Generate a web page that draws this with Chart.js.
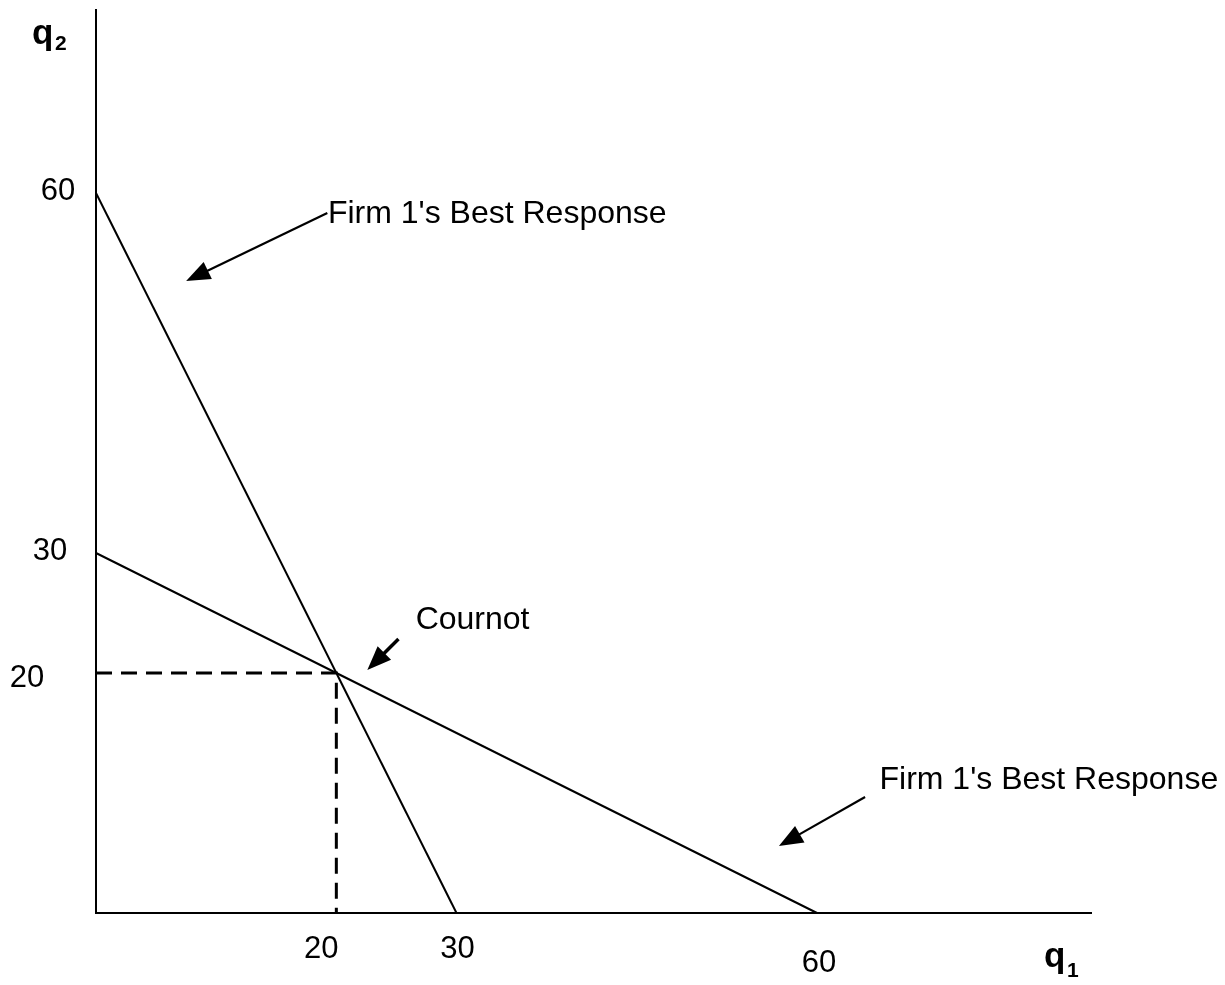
<!DOCTYPE html>
<html>
<head>
<meta charset="utf-8">
<title>Cournot best responses</title>
<script src="https://cdn.jsdelivr.net/npm/chart.js@4.4.0/dist/chart.umd.min.js"></script>
<style>
  html, body { margin: 0; padding: 0; background: #fff; }
  #wrap { width: 1225px; height: 985px; position: relative; }
</style>
</head>
<body>
<div id="wrap"><canvas id="chart"></canvas></div>
<script>
// --- Data ---
const firm1Q1 = [0, 30];     // steep line: q2 = 60 - 2 q1
const firm1Q2 = [60, 0];
const firm2Q1 = [0, 60];     // flat line: q2 = 30 - q1 / 2
const firm2Q2 = [30, 0];
const guideQ1 = [0, 20, 20]; // dashed lines to the Cournot point
const guideQ2 = [20, 20, 0];
const xTickValues = [20, 30, 60];
const yTickValues = [60, 30, 20];
const axisMaxQ1 = 82.8;
const axisMaxQ2 = 75.25;

// --- Labels / arrows (data coordinates) ---
const notes = [
  { text: "Firm 1's Best Response", at: [19.3, 58.2], tail: [19.25, 58.33], head: [7.5, 52.67], width: 2.2 },
  { text: "Cournot", at: [26.6, 24.4], tail: [25.17, 22.83], head: [22.58, 20.25], width: 3.5 },
  { text: "Firm 1's Best Response", at: [65.2, 11.1], tail: [64.0, 9.67], head: [56.83, 5.58], width: 2.2 }
];

// pixel nudges for tick labels (the original is hand placed)
const xTickNudge = [[-15, 36], [1, 36], [2, 50]];
const yTickNudge = [[-38, -2], [-46, -2], [-69, 5]];

function toPoints(xs, ys) {
  return xs.map((x, i) => ({ x: x, y: ys[i] }));
}

function drawArrow(ctx, x1, y1, x2, y2, w) {
  const ang = Math.atan2(y2 - y1, x2 - x1);
  const len = 24, half = 9.5;
  const bx = x2 - len * Math.cos(ang), by = y2 - len * Math.sin(ang);
  ctx.beginPath();
  ctx.moveTo(x1, y1);
  ctx.lineTo(bx + 2 * Math.cos(ang), by + 2 * Math.sin(ang));
  ctx.lineWidth = w;
  ctx.stroke();
  ctx.beginPath();
  ctx.moveTo(x2, y2);
  ctx.lineTo(bx + half * Math.sin(ang), by - half * Math.cos(ang));
  ctx.lineTo(bx - half * Math.sin(ang), by + half * Math.cos(ang));
  ctx.closePath();
  ctx.fill();
}

const textPlugin = {
  id: 'textPlugin',
  afterDraw(chart) {
    const ctx = chart.ctx;
    const xs = chart.scales.x, ys = chart.scales.y;
    const font = "'Liberation Sans', Arial, sans-serif";
    ctx.save();
    ctx.fillStyle = '#000';
    ctx.strokeStyle = '#000';

    // tick labels
    ctx.font = '31px ' + font;
    ctx.textAlign = 'center';
    ctx.textBaseline = 'middle';
    xTickValues.forEach((v, i) => {
      ctx.fillText(String(v), xs.getPixelForValue(v) + xTickNudge[i][0], ys.getPixelForValue(0) + xTickNudge[i][1]);
    });
    yTickValues.forEach((v, i) => {
      ctx.fillText(String(v), xs.getPixelForValue(0) + yTickNudge[i][0], ys.getPixelForValue(v) + yTickNudge[i][1]);
    });

    // annotations
    ctx.font = '32px ' + font;
    ctx.textAlign = 'left';
    notes.forEach(n => {
      ctx.fillText(n.text, xs.getPixelForValue(n.at[0]), ys.getPixelForValue(n.at[1]));
      drawArrow(ctx,
        xs.getPixelForValue(n.tail[0]), ys.getPixelForValue(n.tail[1]),
        xs.getPixelForValue(n.head[0]), ys.getPixelForValue(n.head[1]), n.width);
    });

    // axis titles q2 and q1
    ctx.textBaseline = 'alphabetic';
    const x0 = xs.getPixelForValue(0), y0 = ys.getPixelForValue(0);
    ctx.font = 'bold 35px ' + font;
    ctx.fillText('q', x0 - 64, 44);
    ctx.fillText('q', xs.right - 47, y0 + 54);
    ctx.font = 'bold 21px ' + font;
    ctx.fillText('2', x0 - 41, 50);
    ctx.fillText('1', xs.right - 24, y0 + 64);
    ctx.restore();
  }
};

const lineStyle = { borderColor: '#000', borderWidth: 2, pointRadius: 0, showLine: true, fill: false, clip: false, tension: 0 };

new Chart(document.getElementById('chart').getContext('2d'), {
  type: 'scatter',
  data: {
    datasets: [
      Object.assign({ label: 'Firm 1', data: toPoints(firm1Q1, firm1Q2) }, lineStyle),
      Object.assign({ label: 'Firm 2', data: toPoints(firm2Q1, firm2Q2) }, lineStyle),
      Object.assign({ label: 'Cournot', data: toPoints(guideQ1, guideQ2) }, lineStyle, { borderWidth: 3, borderDash: [16, 9] })
    ]
  },
  options: {
    responsive: true,
    maintainAspectRatio: false,
    animation: false,
    layout: { padding: { left: 96, top: 10, right: 134, bottom: 72 } },
    scales: {
      x: {
        type: 'linear', min: 0, max: axisMaxQ1,
        grid: { display: false, drawTicks: false },
        ticks: { display: false },
        border: { display: true, color: '#000', width: 2 }
      },
      y: {
        type: 'linear', min: 0, max: axisMaxQ2,
        grid: { display: false, drawTicks: false },
        ticks: { display: false },
        border: { display: true, color: '#000', width: 2 }
      }
    },
    plugins: {
      legend: { display: false },
      tooltip: { enabled: false }
    }
  },
  plugins: [textPlugin]
});
</script>
</body>
</html>
